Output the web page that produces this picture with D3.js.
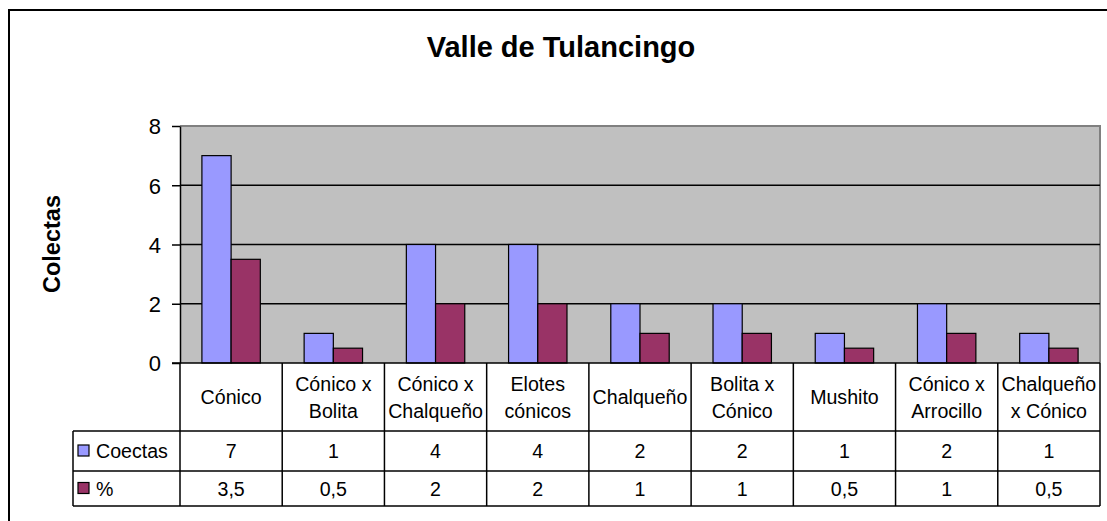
<!DOCTYPE html>
<html>
<head>
<meta charset="utf-8">
<script src="https://d3js.org/d3.v7.min.js"></script>
<style>
  * { margin: 0; padding: 0; }
  body { background: #fff; }
  svg text { font-family: Arial, "Liberation Sans", sans-serif; fill: #000; }
</style>
</head>
<body>
<svg id="chart" width="1107" height="521"></svg>
<script>
// data
const categories = ["Cónico", "Cónico x\nBolita", "Cónico x\nChalqueño", "Elotes\ncónicos",
  "Chalqueño", "Bolita x\nCónico", "Mushito", "Cónico x\nArrocillo", "Chalqueño\nx Cónico"];
const seriesNames = ["Coectas", "%"];
const coectas = [7, 1, 4, 4, 2, 2, 1, 2, 1];
const porcentaje = [3.5, 0.5, 2, 2, 1, 1, 0.5, 1, 0.5];
const yTicks = [0, 2, 4, 6, 8];
const colors = ["#9999ff", "#993366"];

const values = [coectas, porcentaje];
const fmt = v => String(v).replace(".", ",");

const svg = d3.select("#chart");

// plot box
const pLeft = 180, pRight = 1100, pTop = 126, pBottom = 363;
const legendLeft = 73;
const rowH = [68, 40, 35]; // header, series 1, series 2

const x = d3.scaleBand().domain(categories).range([pLeft, pRight]);
const xs = d3.scaleBand().domain(seriesNames).range([0, x.bandwidth()]).paddingOuter(0.75);
const y = d3.scaleLinear().domain([0, 8]).range([pBottom, pTop]);

// outer frame (runs off the picture to the right and bottom)
svg.append("path")
  .attr("d", "M9,521V10H1107")
  .attr("fill", "none")
  .attr("stroke", "#000")
  .attr("stroke-width", 2);

// title
svg.append("text")
  .attr("x", 561).attr("y", 57)
  .attr("text-anchor", "middle")
  .style("font-size", "29px").style("font-weight", "bold")
  .text("Valle de Tulancingo");

// y title
svg.append("text")
  .attr("transform", "translate(60,244) rotate(-90)")
  .attr("text-anchor", "middle")
  .style("font-size", "23.5px").style("font-weight", "bold")
  .text("Colectas");

// plot area
svg.append("rect")
  .attr("x", pLeft).attr("y", pTop)
  .attr("width", pRight - pLeft).attr("height", pBottom - pTop)
  .attr("fill", "#c0c0c0");
svg.append("path")
  .attr("d", `M${pLeft},${pTop}H${pRight}V${pBottom}`)
  .attr("fill", "none").attr("stroke", "#808080").attr("stroke-width", 2);

// gridlines
svg.append("g")
  .selectAll("line")
  .data(yTicks.filter(d => d > 0 && d < 8))
  .join("line")
  .attr("x1", pLeft).attr("x2", pRight)
  .attr("y1", d => y(d)).attr("y2", d => y(d))
  .attr("stroke", "#000").attr("stroke-width", 1.5);

// y axis
const yAxis = svg.append("g")
  .attr("transform", `translate(${pLeft},0)`)
  .call(d3.axisLeft(y).tickValues(yTicks).tickSize(8).tickPadding(11).tickSizeOuter(0));
yAxis.select(".domain").attr("stroke", "#000").attr("stroke-width", 1.5);
yAxis.selectAll(".tick line").attr("stroke", "#000").attr("stroke-width", 1.5);
yAxis.selectAll(".tick text")
  .style("font-size", "22px")
  .attr("font-family", null)
  .attr("dy", "0.36em");

// bars
const groups = svg.append("g")
  .selectAll("g")
  .data(categories)
  .join("g")
  .attr("transform", d => `translate(${x(d)},0)`);
groups.selectAll("rect")
  .data((d, i) => seriesNames.map((s, j) => ({ s, v: values[j][i], j })))
  .join("rect")
  .attr("x", d => xs(d.s))
  .attr("width", xs.bandwidth())
  .attr("y", d => y(d.v))
  .attr("height", d => y(0) - y(d.v))
  .attr("fill", d => colors[d.j])
  .attr("stroke", "#000").attr("stroke-width", 1.2);

// data table
const tbl = svg.append("g");
const r0 = pBottom, r1 = pBottom + rowH[0], r2 = r1 + rowH[1], r3 = r2 + rowH[2];
const lineAttr = sel => sel.attr("stroke", "#000").attr("stroke-width", 1.5).attr("fill", "none");

// horizontal lines
tbl.append("path").attr("d", `M${pLeft - 8},${r0}H${pRight}`).call(lineAttr);
[r1, r2, r3].forEach(r => tbl.append("path").attr("d", `M${legendLeft},${r}H${pRight}`).call(lineAttr));
// vertical lines
tbl.append("path").attr("d", `M${legendLeft},${r1}V${r3}`).call(lineAttr);
tbl.selectAll("path.v")
  .data(categories)
  .join("path")
  .attr("class", "v")
  .attr("d", d => `M${x(d)},${r0}V${r3}`)
  .call(lineAttr);
tbl.append("path").attr("d", `M${pRight},${r0}V${r3}`).call(lineAttr);

// header labels
const fs = 19.6;
tbl.selectAll("text.cat")
  .data(categories)
  .join("text")
  .attr("class", "cat")
  .attr("text-anchor", "middle")
  .style("font-size", fs + "px")
  .each(function (d) {
    const lines = d.split("\n");
    const t = d3.select(this);
    const cx = x(d) + x.bandwidth() / 2;
    const cy = (r0 + r1) / 2;
    const lh = 27;
    lines.forEach((ln, k) => {
      t.append("tspan")
        .attr("x", cx)
        .attr("y", cy + 7 + (k - (lines.length - 1) / 2) * lh)
        .text(ln);
    });
  });

// series rows
const rowsTop = [r1, r2];
seriesNames.forEach((s, j) => {
  const rt = rowsTop[j], rb = rt + rowH[j + 1], cy = (rt + rb) / 2;
  tbl.append("rect")
    .attr("x", legendLeft + 5).attr("y", cy - 6)
    .attr("width", 11).attr("height", 11)
    .attr("fill", colors[j]).attr("stroke", "#000").attr("stroke-width", 1.2);
  tbl.append("text")
    .attr("x", legendLeft + 23).attr("y", cy + 7)
    .style("font-size", fs + "px")
    .text(s);
  tbl.selectAll("text.val" + j)
    .data(categories)
    .join("text")
    .attr("class", "val" + j)
    .attr("x", d => x(d) + x.bandwidth() / 2)
    .attr("y", cy + 7)
    .attr("text-anchor", "middle")
    .style("font-size", fs + "px")
    .text((d, i) => fmt(values[j][i]));
});
</script>
</body>
</html>
